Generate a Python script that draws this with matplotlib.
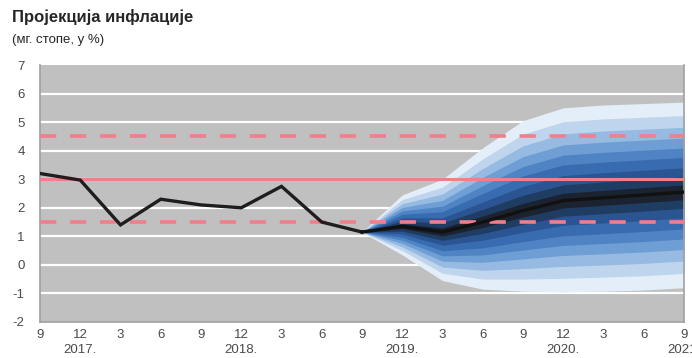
import matplotlib
matplotlib.use('Agg')
import matplotlib.pyplot as plt
import numpy as np

plt.rcParams['font.family'] = ['Liberation Sans Narrow', 'Liberation Sans', 'DejaVu Sans']
plt.rcParams['axes.unicode_minus'] = False

# quarterly ticks, Sep 2016 .. Sep 2021
tick_labels = ['9', '12\n2017.', '3', '6', '9', '12\n2018.', '3', '6', '9',
               '12\n2019.', '3', '6', '9', '12\n2020.', '3', '6', '9\n2021.']

# actual inflation (quarters 0..8)
actual = [3.2, 2.97, 1.4, 2.3, 2.1, 2.0, 2.75, 1.5, 1.15]

# projection (quarters 8..16)
median = [1.15, 1.35, 1.15, 1.5, 1.9, 2.25, 2.35, 2.45, 2.55]
outer_upper = [1.15, 2.45, 3.0, 4.1, 5.05, 5.5, 5.6, 5.65, 5.7]
outer_lower = [1.15, 0.35, -0.55, -0.85, -0.92, -0.95, -0.92, -0.88, -0.8]
# relative width of each band edge (inner -> outer)
band_share = [0.08, 0.17, 0.27, 0.385, 0.49, 0.6, 0.72, 0.85, 1.0]
band_colors = ['#1b2230', '#1f3c63', '#2a5592', '#386cb0', '#4f84c4',
               '#6e9ed4', '#96bae1', '#bfd5ed', '#e4eef8']

target = 3.0
band_lo, band_hi = 1.5, 4.5

x_hist = np.arange(len(actual))
x_proj = np.arange(len(actual) - 1, len(actual) - 1 + len(median))
med = np.array(median)
up = np.array(outer_upper)
lo = np.array(outer_lower)

fig = plt.figure(figsize=(6.92, 3.58), dpi=100)
ax = fig.add_axes([0.0578, 0.1006, 0.9306, 0.7178])
ax.set_facecolor('#c0c0c0')

for y in range(-1, 7):
    ax.axhline(y, color='white', lw=1.6, zorder=1)

# fan, outer bands first
for share, col in zip(band_share[::-1], band_colors[::-1]):
    ax.fill_between(x_proj, med + share * (up - med), med - share * (med - lo),
                    color=col, lw=0, zorder=2)

ax.axhline(target, color='#f07f8c', lw=2.2, zorder=3)
for y in (band_lo, band_hi):
    ax.axhline(y, color='#f07f8c', lw=2.6, ls=(0, (4.5, 3.8)), zorder=3)

ax.plot(x_hist, actual, color='#1e1e1e', lw=2.4, zorder=4, solid_joinstyle='miter')
ax.plot(x_proj, median, color='#111111', lw=2.4, zorder=4)

ax.set_xlim(0, 16)
ax.set_ylim(-2, 7)
ax.set_xticks(range(len(tick_labels)))
ax.set_xticklabels(tick_labels, fontsize=9.5, color='#4a4a4a', linespacing=1.3)
ax.set_yticks(range(-2, 8))
ax.tick_params(axis='both', length=0, labelsize=9.5, labelcolor='#4a4a4a')
ax.tick_params(axis='y', pad=11)
ax.tick_params(axis='x', pad=5)

for s in ax.spines.values():
    s.set_color('#a0a0a0')
    s.set_linewidth(1.2)
ax.spines['top'].set_visible(False)

fig.text(0.017, 0.952, 'Пројекција инфлације', fontsize=12, fontweight='bold',
         color='#262626', family=['Liberation Sans', 'DejaVu Sans'], va='center')
fig.text(0.017, 0.888, '(мг. стопе, у %)', fontsize=9.5, color='#262626',
         family=['Liberation Sans', 'DejaVu Sans'], va='center')

fig.savefig('out.png', dpi=100)
